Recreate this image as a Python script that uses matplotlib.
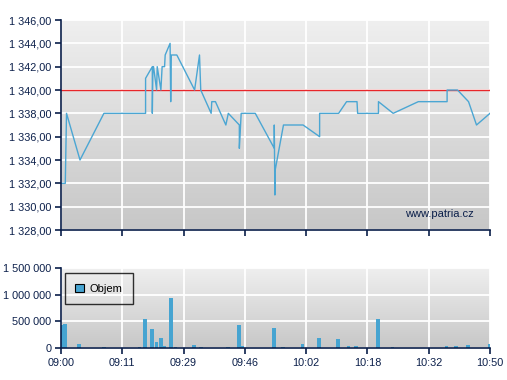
import matplotlib
matplotlib.use("Agg")
import matplotlib.pyplot as plt
import numpy as np
from matplotlib.ticker import FuncFormatter

# price trace, x in evenly spaced index units (one tick = 10 units)
price_x = [0, 0.7, 0.9, 3.1, 7.0, 13.8, 13.8, 14.9, 14.9, 15.0,
           15.1, 15.6, 15.7, 16.3, 16.5, 16.9, 17.0, 17.8, 17.9, 18.0,
           18.9, 21.8, 22.6, 22.8, 24.5, 24.6, 25.2, 26.9, 27.3, 29.1,
           29.1, 29.4, 31.7, 34.8, 34.8, 34.9, 34.9, 36.3, 39.5, 42.2,
           42.2, 45.3, 46.6, 48.3, 48.4, 51.8, 51.8, 54.2, 58.3, 63.0,
           63.0, 64.7, 66.5, 67.8, 70]
price_y = [1332, 1332, 1338, 1334, 1338, 1338, 1341, 1342, 1338, 1342,
           1342, 1340, 1342, 1340, 1342, 1342, 1343, 1344, 1339, 1343,
           1343, 1340, 1343, 1340, 1338, 1339, 1339, 1337, 1338, 1337,
           1335, 1338, 1338, 1335, 1337, 1331, 1333, 1337, 1337, 1336,
           1338, 1338, 1339, 1339, 1338, 1338, 1339, 1338, 1339, 1339,
           1340, 1340, 1339, 1337, 1338]
ref_price = 1340

vol_x = [0, 0.65, 2.9, 7.0, 12.8, 13.7, 14.8, 15.6, 16.3, 16.8,
         17.9, 18.7, 21.7, 22.8, 27.2, 29.0, 29.5, 34.7, 36.2, 39.4,
         42.1, 45.2, 46.9, 48.1, 51.7, 54.1, 62.9, 64.5, 66.4, 70]
vol_y = [437000, 456000, 81000, 25000, 25000, 550000, 362000, 119000, 194000, 44000,
         944000, 25000, 62000, 25000, 25000, 437000, 44000, 381000, 25000, 81000,
         194000, 175000, 44000, 44000, 550000, 25000, 44000, 44000, 62000, 81000]

tick_pos = [0, 10, 20, 30, 40, 50, 60, 70]
tick_labels = ["09:00", "09:11", "09:29", "09:46", "10:02", "10:18", "10:32", "10:50"]

NAVY = "#0b1f4a"
LINE = "#4ba6d3"
BAR = "#46a4d1"

plt.rcParams["font.family"] = ["Liberation Sans", "DejaVu Sans"]
plt.rcParams["font.size"] = 7.8

W, H = 507, 380
fig = plt.figure(figsize=(W / 100, H / 100), dpi=100)
ax1 = fig.add_axes([61 / W, 1 - 230 / H, 429 / W, 210 / H])
ax2 = fig.add_axes([61 / W, 1 - 348 / H, 429 / W, 80 / H])

bg = matplotlib.colors.LinearSegmentedColormap.from_list("bg", ["#efefef", "#c7c7c7"])
grad = np.linspace(0, 1, 256).reshape(-1, 1)
for ax in (ax1, ax2):
    ax.imshow(grad, cmap=bg, aspect="auto", extent=[0, 1, 0, 1],
              transform=ax.transAxes, zorder=0)
    for s in ("top", "right"):
        ax.spines[s].set_visible(False)
    for s in ("left", "bottom"):
        ax.spines[s].set_color(NAVY)
        ax.spines[s].set_linewidth(1.2)
        ax.spines[s].set_zorder(5)
    ax.set_xlim(0, 70)
    ax.set_xticks(tick_pos)
    ax.grid(True, color="white", linewidth=1.3, zorder=1)
    ax.set_axisbelow(True)
    ax.tick_params(colors=NAVY, direction="out", length=4, width=1.2,
                   labelcolor=NAVY, pad=3)

ax1.axhline(ref_price, color="#e8262a", linewidth=1, zorder=2)
ax1.plot(price_x, price_y, color=LINE, linewidth=1.0, zorder=3)
ax1.set_ylim(1328, 1346)
ax1.set_yticks(range(1328, 1347, 2))
ax1.yaxis.set_major_formatter(FuncFormatter(
    lambda v, p: f"{v:,.2f}".replace(",", " ").replace(".", ",")))
ax1.set_xticklabels([])
ax1.text(0.963, 0.075, "www.patria.cz", transform=ax1.transAxes, ha="right",
         va="center", color=NAVY, fontsize=8, zorder=4)

ax2.bar(vol_x, vol_y, width=0.6, color=BAR, zorder=3, label="Objem")
ax2.set_ylim(0, 1500000)
ax2.set_yticks([0, 500000, 1000000, 1500000])
ax2.yaxis.set_major_formatter(FuncFormatter(
    lambda v, p: f"{int(v):,}".replace(",", " ")))
ax2.set_xticklabels(tick_labels)
leg = ax2.legend(loc="upper left", frameon=True, fancybox=False, handlelength=0.75,
                 handleheight=0.75, borderpad=0.95, handletextpad=0.5,
                 borderaxespad=0, bbox_to_anchor=(0.009, 0.935), fontsize=8)
leg.get_frame().set_edgecolor("black")
leg.get_frame().set_facecolor("none")
leg.get_frame().set_linewidth(1)
for h in leg.legend_handles:
    h.set_edgecolor("black")
    h.set_linewidth(0.8)

fig.savefig("out.png", dpi=100)
